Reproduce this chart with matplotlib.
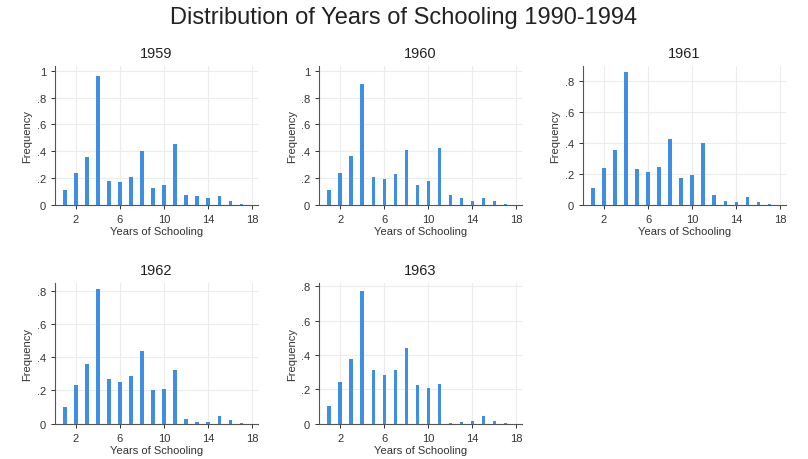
import matplotlib
matplotlib.use("Agg")
import matplotlib.pyplot as plt

plt.rcParams["font.family"] = ["Liberation Sans", "DejaVu Sans"]

# Years of schooling (discrete categories)
years = list(range(1, 18))

# Frequency by cohort
freq_1959 = [0.11, 0.235, 0.355, 0.96, 0.18, 0.17, 0.21, 0.40, 0.125, 0.15, 0.455, 0.075, 0.065, 0.05, 0.065, 0.025, 0.005]
freq_1960 = [0.11, 0.24, 0.365, 0.90, 0.21, 0.19, 0.23, 0.41, 0.15, 0.18, 0.425, 0.075, 0.05, 0.025, 0.05, 0.025, 0.005]
freq_1961 = [0.105, 0.235, 0.355, 0.86, 0.23, 0.21, 0.245, 0.425, 0.175, 0.195, 0.40, 0.065, 0.025, 0.015, 0.05, 0.02, 0.005]
freq_1962 = [0.10, 0.235, 0.36, 0.81, 0.27, 0.25, 0.285, 0.44, 0.205, 0.21, 0.325, 0.025, 0.01, 0.01, 0.045, 0.02, 0.005]
freq_1963 = [0.10, 0.245, 0.375, 0.775, 0.31, 0.285, 0.315, 0.44, 0.225, 0.21, 0.23, 0.005, 0.01, 0.015, 0.045, 0.015, 0.005]

cohorts = ["1959", "1960", "1961", "1962", "1963"]
series = [freq_1959, freq_1960, freq_1961, freq_1962, freq_1963]

x_ticks = [2, 6, 10, 14, 18]
y_ticks_big = [0, 0.2, 0.4, 0.6, 0.8, 1.0]
y_ticks_small = [0, 0.2, 0.4, 0.6, 0.8]
y_top = [1.04, 1.04, 0.9, 0.85, 0.82]

BAR = "#3f8ee6"
GRID = "#ececec"
AXIS = "#555555"


def stata_fmt(v):
    if v == 0:
        return "0"
    if v == 1:
        return "1"
    return f"{v:.1f}".lstrip("0")


fig = plt.figure(figsize=(8.08, 4.6), dpi=100)
fig.suptitle("Distribution of Years of Schooling 1990-1994", fontsize=17, y=0.985, color="#222222")

# axes positions in figure fraction: [left, bottom, width, height]
positions = [
    [0.068, 0.553, 0.251, 0.302],
    [0.395, 0.553, 0.251, 0.302],
    [0.7215, 0.553, 0.251, 0.302],
    [0.068, 0.077, 0.251, 0.306],
    [0.395, 0.077, 0.251, 0.306],
]

for i, (name, vals) in enumerate(zip(cohorts, series)):
    ax = fig.add_axes(positions[i])
    ax.bar(years, vals, width=0.3, color=BAR, zorder=3)
    ax.set_xlim(0.1, 18.5)
    ax.set_ylim(0, y_top[i])

    yt = y_ticks_big if y_top[i] > 1 else y_ticks_small
    ax.set_yticks(yt)
    ax.set_yticklabels([stata_fmt(v) for v in yt])
    ax.set_xticks(x_ticks)

    ax.grid(True, color=GRID, linewidth=0.8, zorder=0)
    for side in ("top", "right"):
        ax.spines[side].set_visible(False)
    for side in ("left", "bottom"):
        ax.spines[side].set_color(AXIS)
        ax.spines[side].set_linewidth(0.8)
    ax.tick_params(axis="both", labelsize=8, colors="#333333", length=3, width=0.7)

    ax.set_title(name, fontsize=10.5, pad=6, color="#222222")
    ax.set_xlabel("Years of Schooling", fontsize=8, color="#333333", labelpad=2)
    ax.set_ylabel("Frequency", fontsize=8, color="#333333", labelpad=3)

fig.savefig("out.png", dpi=100, facecolor="white")
